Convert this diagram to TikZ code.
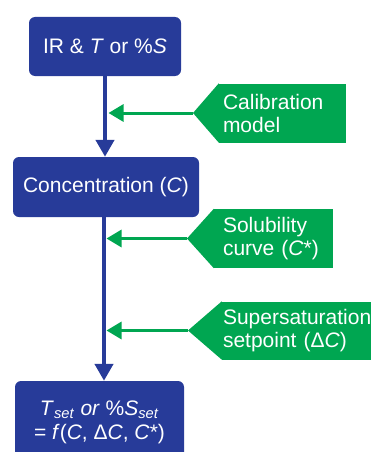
\documentclass[tikz,border=0pt]{standalone}
\usepackage{fontspec}
\setmainfont{Liberation Sans}
\usetikzlibrary{arrows.meta}
\definecolor{boxblue}{RGB}{39,59,153}
\definecolor{notegreen}{RGB}{0,166,81}

\begin{document}
\begin{tikzpicture}[x=1pt, y=-1pt,
    stage/.style={fill=boxblue, rounded corners=6pt, text=white, align=center, inner sep=0pt, font=\fontsize{21}{24}\selectfont},
    note/.style={fill=notegreen, text=white, align=left, inner ysep=0pt, font=\fontsize{21}{23}\selectfont},
    flow/.style={boxblue, line width=4.5pt, -{Triangle[length=17pt, width=18pt]}},
    feed/.style={notegreen, line width=3pt, -{Triangle[length=15pt, width=17pt]}}]
    \clip (0,0) rectangle (371,452);

    % Process boxes
    \node[stage, minimum width=152pt, minimum height=59pt] (meas) at (105,46.5) {IR \& \textit{T} or \%\textit{S}};
    \node[stage, minimum width=186pt, minimum height=60pt] (conc) at (106,187) {Concentration (\textit{C})};
    \node[stage, minimum width=169pt, minimum height=82pt] (final) at (99.5,422)
        {\textit{T}\textsubscript{\textit{set}} \textit{or} \%\textit{S}\textsubscript{\textit{set}}\\
         = \textit{f}(\textit{C}, Δ\textit{C}, \textit{C}*)};

    % Inputs
    \node[note, minimum height=59pt, inner xsep=4pt, text width=119pt] (calib) at (282.5,113) {Calibration\\model};
    \node[note, minimum height=59pt, inner xsep=9pt, text width=101pt] (solub) at (273.5,238.5) {Solubility\\curve (\textit{C}*)};
    \node[note, minimum height=58pt, inner xsep=1pt, text width=176pt] (super) at (311,330.5) {Supersaturation\\setpoint (Δ\textit{C})};
    \coordinate (calibtip) at (193,113);
    \coordinate (solubtip) at (187,238.5);
    \coordinate (supertip) at (188,330.5);
    \fill[notegreen] (calib.north west) -- (calibtip) -- (calib.south west) -- cycle;
    \fill[notegreen] (solub.north west) -- (solubtip) -- (solub.south west) -- cycle;
    \fill[notegreen] (super.north west) -- (supertip) -- (super.south west) -- cycle;

    % Main flow
    \coordinate (spine) at (104,0);
    \draw[flow] (meas) -- (meas |- conc.north);
    \draw[flow] (conc.south -| spine) -- (final.north -| spine);

    % Feeds into the flow
    \coordinate (calibhit) at (108.5,113);
    \coordinate (solubhit) at (106.5,238.5);
    \coordinate (superhit) at (106.5,330.5);
    \draw[feed] (calibtip) -- (calibhit);
    \draw[feed] (solubtip) -- (solubhit);
    \draw[feed] (supertip) -- (superhit);
\end{tikzpicture}
\end{document}
